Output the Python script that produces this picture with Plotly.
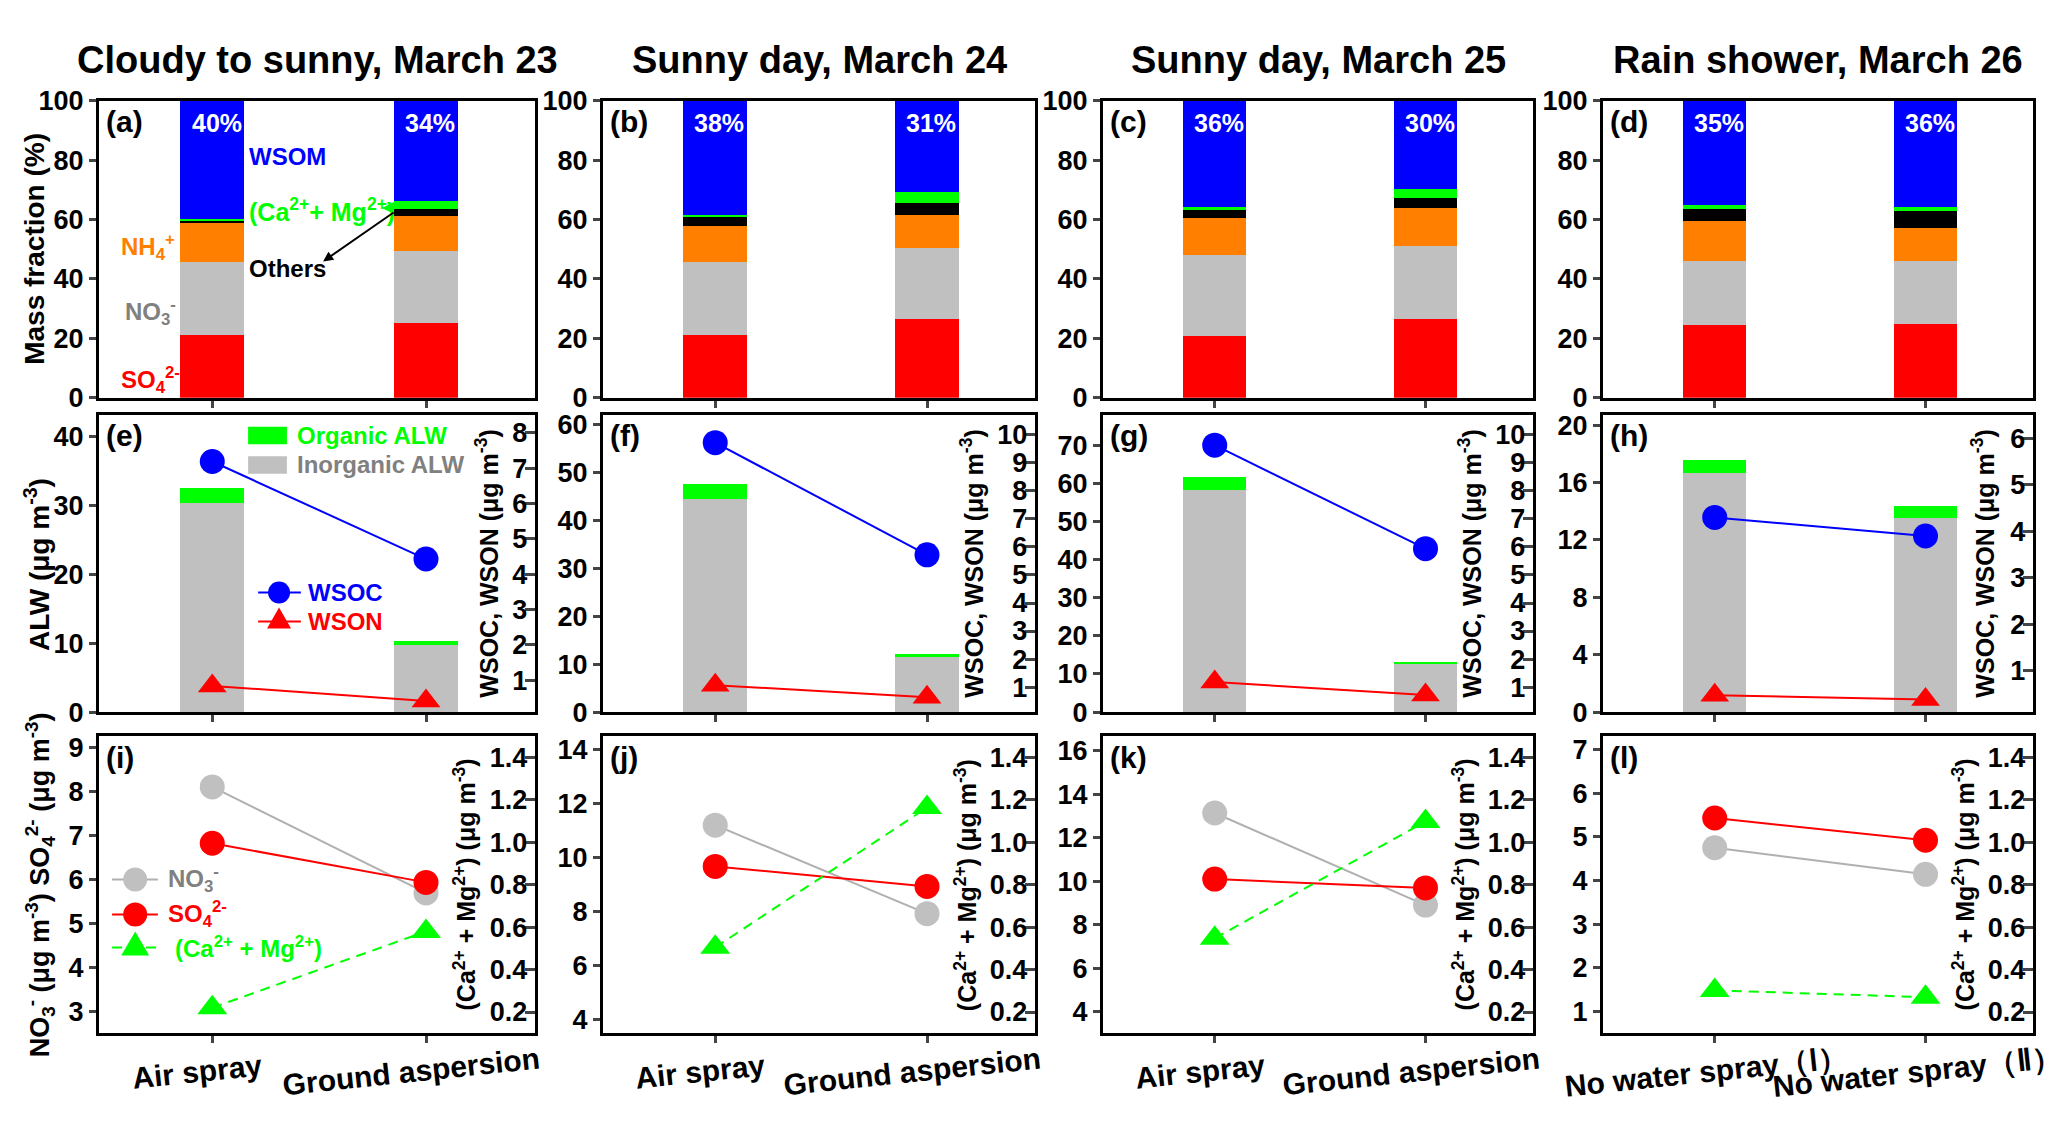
import plotly.graph_objects as go

# ---- data ----
titles = ["Cloudy to sunny, March 23", "Sunny day, March 24",
          "Sunny day, March 25", "Rain shower, March 26"]
letters = ["a", "b", "c", "d", "e", "f", "g", "h", "i", "j", "k", "l"]
cats_spray = ["Air spray", "Ground aspersion"]
cats_rain = ["No water spray（Ⅰ）", "No water spray（Ⅱ）"]

# mass fraction (%), per day [air/ground or I/II]
so4_frac = [[21.0, 25.1], [21.1, 26.6], [20.8, 26.6], [24.6, 24.9]]
no3_frac = [[24.8, 24.4], [24.6, 23.9], [27.2, 24.5], [21.3, 21.2]]
nh4_frac = [[13.0, 11.8], [12.1, 11.2], [12.4, 12.9], [13.7, 11.1]]
others_frac = [[0.9, 2.4], [3.0, 3.9], [2.7, 3.3], [3.8, 5.6]]
camg_frac = [[0.5, 2.4], [0.8, 3.6], [1.2, 3.1], [1.4, 1.4]]
wsom_frac = [[39.8, 33.9], [38.4, 30.8], [35.7, 29.6], [35.2, 35.8]]

# aerosol liquid water (ug m-3) and WSOC / WSON (ug m-3)
alw_inorganic = [[30.3, 9.8], [44.6, 11.5], [58.2, 12.7], [16.7, 13.5]]
alw_organic = [[2.2, 0.5], [3.1, 0.6], [3.6, 0.4], [0.9, 0.9]]
wsoc = [[7.19, 4.43], [9.72, 5.72], [9.63, 5.94], [4.30, 3.90]]
wson = [[0.84, 0.41], [1.07, 0.64], [1.18, 0.72], [0.47, 0.38]]

# ion concentrations (ug m-3)
no3_conc = [[8.10, 5.69], [11.21, 7.93], [13.14, 8.90], [4.75, 4.14]]
so4_conc = [[6.82, 5.93], [9.68, 8.94], [10.10, 9.69], [5.43, 4.92]]
camg_conc = [[0.22, 0.58], [0.505, 1.164], [0.548, 1.098], [0.302, 0.27]]

# axis ranges
alw_range = [[0, 43.1], [0, 62], [0, 77.9], [0, 20.7]]
alw_dtick = [10, 10, 10, 4]
wsoc_range = [[0.1, 8.5], [0.11, 10.7], [0.11, 10.7], [0.11, 6.5]]
ion_range = [[2.5, 9.25], [3.5, 14.5], [3.0, 16.67], [0.5, 7.3]]
ion_dtick = [1, 2, 2, 1]
camg_range = [0.1, 1.5]

# ---- layout geometry (pixels) ----
W, H = 2067, 1121
col_px = [(91, 527), (595, 1027), (1095, 1525), (1595, 2025)]
row_px = [(80, 385), (403, 708), (733, 1038)]
FONT = "Liberation Sans, Arial, sans-serif"
X_RANGE = [-0.53, 1.51]
xs = [0, 1]

RED, GRAY, ORANGE, GREEN, BLUE = "#FF0000", "#C0C0C0", "#FF8000", "#00FF00", "#0000FF"
TXTGRAY = "#808080"


def sfx(i):
    return "" if i == 1 else str(i)


def fnt(size, color="black"):
    return dict(family=FONT, size=size, color=color, weight="bold")


def note(text, x, y, xref, yref, size=24, color="black", **kw):
    kw.setdefault("xanchor", "center")
    kw.setdefault("yanchor", "middle")
    return dict(text=text, x=x, y=y, xref=xref, yref=yref, showarrow=False,
                font=fnt(size, color), **kw)


fig = go.Figure()
layout = {}
annotations = []
shapes = []

for r in range(3):
    for c in range(4):
        p = r * 4 + c + 1
        s = sfx(p)
        x0, x1 = col_px[c]
        y0, y1 = row_px[r]
        layout["xaxis" + s] = dict(
            domain=[x0 / W, x1 / W], anchor="y" + s, range=X_RANGE,
            tickvals=xs, showticklabels=False, ticks="outside", ticklen=7,
            tickwidth=3, showline=True, linewidth=3, linecolor="black",
            mirror=True, showgrid=False, zeroline=False)
        layout["yaxis" + s] = dict(
            domain=[1 - y1 / H, 1 - y0 / H], anchor="x" + s, ticks="outside",
            ticklen=7, tickwidth=3, showline=True, linewidth=3,
            linecolor="black", mirror=True, showgrid=False, zeroline=False,
            tickfont=fnt(27))
        # panel letter
        annotations.append(note("(%s)" % letters[p - 1], 0.012, 0.93,
                                "x%s domain" % s, "y%s domain" % s, size=30,
                                xanchor="left"))

# ---- row 1: mass fractions ----
species = [(so4_frac, RED), (no3_frac, GRAY), (nh4_frac, ORANGE),
           (others_frac, "black"), (camg_frac, GREEN), (wsom_frac, BLUE)]
for c in range(4):
    s = sfx(c + 1)
    layout["yaxis" + s].update(range=[0, 100], dtick=20)
    for vals, col in species:
        fig.add_trace(go.Bar(x=xs, y=vals[c], width=0.3, marker_color=col,
                             marker_line_width=0, xaxis="x" + s, yaxis="y" + s,
                             showlegend=False))
    for i in range(2):
        annotations.append(note("%.0f%%" % wsom_frac[c][i], xs[i] + 0.02, 92.5,
                                "x" + s, "y" + s, size=25, color="white"))
    annotations.append(note(titles[c], (col_px[c][0] + col_px[c][1]) / 2 / W,
                            1 - 38 / H, "paper", "paper", size=38))

# ---- row 2: ALW bars + WSOC/WSON ----
for c in range(4):
    p = 4 + c + 1
    s = sfx(p)
    q = str(13 + c)
    layout["yaxis" + s].update(range=alw_range[c], dtick=alw_dtick[c])
    layout["yaxis" + q] = dict(
        overlaying="y" + s, anchor="x" + s, side="right", range=wsoc_range[c],
        dtick=1, ticks="inside", ticklabelposition="inside", ticklen=10,
        tickwidth=3, showline=False, showgrid=False, zeroline=False,
        tickfont=fnt(27))
    fig.add_trace(go.Bar(x=xs, y=alw_inorganic[c], width=0.3, marker_color=GRAY,
                         marker_line_width=0, xaxis="x" + s, yaxis="y" + s,
                         showlegend=False))
    fig.add_trace(go.Bar(x=xs, y=alw_organic[c], width=0.3, marker_color=GREEN,
                         marker_line_width=0, xaxis="x" + s, yaxis="y" + s,
                         showlegend=False))
    fig.add_trace(go.Scatter(x=xs, y=wsoc[c], mode="lines+markers",
                             line=dict(color=BLUE, width=2),
                             marker=dict(symbol="circle", size=25, color=BLUE),
                             xaxis="x" + s, yaxis="y" + q, showlegend=False))
    fig.add_trace(go.Scatter(x=xs, y=wson[c], mode="lines+markers",
                             line=dict(color=RED, width=2),
                             marker=dict(symbol="triangle-up", size=25, color=RED),
                             xaxis="x" + s, yaxis="y" + q, showlegend=False))
    rx = [1 - 48 / 436, 1 - 63 / 432, 1 - 63 / 430, 1 - 50 / 430][c]
    annotations.append(note("WSOC, WSON (μg m<sup>-3</sup>)", rx, 0.5,
                            "x%s domain" % s, "y%s domain" % s, size=25,
                            textangle=-90))

# ---- row 3: ions ----
for c in range(4):
    p = 8 + c + 1
    s = sfx(p)
    q = str(17 + c)
    layout["yaxis" + s].update(range=ion_range[c], dtick=ion_dtick[c])
    layout["yaxis" + q] = dict(
        overlaying="y" + s, anchor="x" + s, side="right", range=camg_range,
        tick0=0.2, dtick=0.2, tickformat=".1f", ticks="inside",
        ticklabelposition="inside", ticklen=10, tickwidth=3, showline=False,
        showgrid=False, zeroline=False, tickfont=fnt(27))
    fig.add_trace(go.Scatter(x=xs, y=no3_conc[c], mode="lines+markers",
                             line=dict(color="#B0B0B0", width=2),
                             marker=dict(size=25, color=GRAY),
                             xaxis="x" + s, yaxis="y" + s, showlegend=False))
    fig.add_trace(go.Scatter(x=xs, y=so4_conc[c], mode="lines+markers",
                             line=dict(color=RED, width=2),
                             marker=dict(size=25, color=RED),
                             xaxis="x" + s, yaxis="y" + s, showlegend=False))
    fig.add_trace(go.Scatter(x=xs, y=camg_conc[c], mode="lines+markers",
                             line=dict(color=GREEN, width=2, dash="10px,7px"),
                             marker=dict(symbol="triangle-up", size=26, color=GREEN),
                             xaxis="x" + s, yaxis="y" + q, showlegend=False))
    annotations.append(note("(Ca<sup>2+</sup> + Mg<sup>2+</sup>) (μg m<sup>-3</sup>)",
                            1 - 70 / 434, 0.5, "x%s domain" % s,
                            "y%s domain" % s, size=25, textangle=-90))
    labels = cats_rain if c == 3 else cats_spray
    for i in range(2):
        annotations.append(note(labels[i], xs[i], -39 / 305, "x" + s,
                                "y%s domain" % s, size=30, textangle=-6,
                                xshift=-15 if c < 3 else -9))

# ---- left axis titles ----
annotations.append(note("Mass fraction (%)", 27 / W, 1 - 232 / H, "paper", "paper",
                        size=28, textangle=-90))
annotations.append(note("ALW (μg m<sup>-3</sup>)", 29 / W, 1 - 557 / H, "paper",
                        "paper", size=28, textangle=-90))
annotations.append(note("NO<sub>3</sub><sup>-</sup> (μg m<sup>-3</sup>) "
                        "SO<sub>4</sub><sup>2-</sup> (μg m<sup>-3</sup>)",
                        32 / W, 1 - 886 / H, "paper", "paper", size=27,
                        textangle=-90))

# ---- panel (a) labels ----
ax_, ay_ = "x domain", "y domain"
annotations += [
    note("WSOM", 0.433, 0.813, ax_, ay_, color=BLUE),
    note("(Ca<sup>2+</sup>+ Mg<sup>2+</sup>)", 0.339, 0.633, ax_, ay_,
         size=25, color=GREEN, xanchor="left"),
    note("Others", 0.339, 0.436, ax_, ay_, xanchor="left"),
    note("NH<sub>4</sub><sup>+</sup>", 0.112, 0.508, ax_, ay_, color=ORANGE),
    note("NO<sub>3</sub><sup>-</sup>", 0.119, 0.289, ax_, ay_, color=TXTGRAY),
    note("SO<sub>4</sub><sup>2-</sup>", 0.119, 0.059, ax_, ay_, color=RED),
    dict(text="", x=0.649, y=0.639, xref=ax_, yref=ay_, showarrow=True,
         ax=14, ay=0, arrowcolor=GREEN, arrowhead=2, arrowwidth=3, arrowsize=0.8),
    dict(text="", x=0.514, y=0.459, xref=ax_, yref=ay_, showarrow=True,
         ax=72, ay=-50, arrowcolor="black", arrowhead=2, arrowwidth=2),
]

# ---- legend of panel (e) ----
ex, ey = "x5 domain", "y5 domain"
shapes += [
    dict(type="rect", xref=ex, yref=ey, x0=0.342, x1=0.431, y0=0.902, y1=0.961,
         fillcolor=GREEN, line_width=0),
    dict(type="rect", xref=ex, yref=ey, x0=0.342, x1=0.431, y0=0.803, y1=0.862,
         fillcolor=GRAY, line_width=0),
    dict(type="line", xref=ex, yref=ey, x0=0.365, x1=0.463, y0=0.403, y1=0.403,
         line=dict(color=BLUE, width=2)),
    dict(type="circle", xref=ex, yref=ey, xsizemode="pixel", ysizemode="pixel",
         xanchor=0.413, yanchor=0.403, x0=-11, x1=11, y0=-11, y1=11,
         fillcolor=BLUE, line_width=0),
    dict(type="line", xref=ex, yref=ey, x0=0.365, x1=0.463, y0=0.305, y1=0.305,
         line=dict(color=RED, width=2)),
    dict(type="path", xref=ex, yref=ey, xsizemode="pixel", ysizemode="pixel",
         xanchor=0.413, yanchor=0.305, path="M -12,-7 L 12,-7 L 0,14 Z",
         fillcolor=RED, line_width=0),
]
annotations += [
    note("Organic ALW", 0.45, 0.931, ex, ey, color=GREEN, xanchor="left"),
    note("Inorganic ALW", 0.45, 0.833, ex, ey, color=TXTGRAY, xanchor="left"),
    note("WSOC", 0.475, 0.403, ex, ey, color=BLUE, xanchor="left"),
    note("WSON", 0.475, 0.305, ex, ey, color=RED, xanchor="left"),
]

# ---- legend of panel (i) ----
ix, iy = "x9 domain", "y9 domain"
for yy, col, lcol in [(0.518, GRAY, "#B0B0B0"), (0.40, RED, RED)]:
    shapes.append(dict(type="line", xref=ix, yref=iy, x0=0.03, x1=0.135,
                       y0=yy, y1=yy, line=dict(color=lcol, width=2)))
    shapes.append(dict(type="circle", xref=ix, yref=iy, xsizemode="pixel",
                       ysizemode="pixel", xanchor=0.083, yanchor=yy, x0=-12,
                       x1=12, y0=-12, y1=12, fillcolor=col, line_width=0))
shapes.append(dict(type="line", xref=ix, yref=iy, x0=0.03, x1=0.14, y0=0.289,
                   y1=0.289, line=dict(color=GREEN, width=2, dash="10px,7px")))
shapes.append(dict(type="path", xref=ix, yref=iy, xsizemode="pixel",
                   ysizemode="pixel", xanchor=0.083, yanchor=0.289,
                   path="M -14,-8 L 14,-8 L 0,16 Z", fillcolor=GREEN,
                   line_width=0))
annotations += [
    note("NO<sub>3</sub><sup>-</sup>", 0.154, 0.518, ix, iy, color=TXTGRAY,
         xanchor="left"),
    note("SO<sub>4</sub><sup>2-</sup>", 0.154, 0.40, ix, iy, color=RED,
         xanchor="left"),
    note("(Ca<sup>2+</sup> + Mg<sup>2+</sup>)", 0.17, 0.289, ix, iy,
         color=GREEN, xanchor="left"),
]

fig.update_layout(
    width=W, height=H, margin=dict(l=0, r=0, t=0, b=0),
    paper_bgcolor="white", plot_bgcolor="white", barmode="stack",
    showlegend=False, font=fnt(26), annotations=annotations, shapes=shapes,
    **layout)

fig.write_html("out.html")
